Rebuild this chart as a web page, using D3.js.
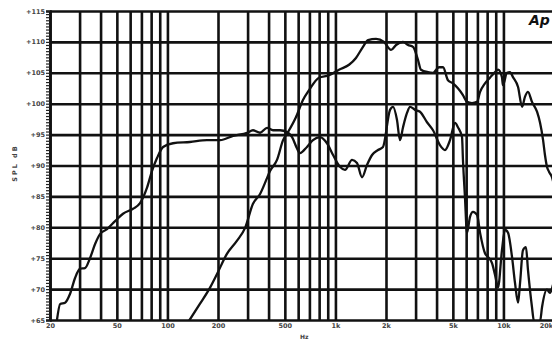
<!DOCTYPE html>
<html>
<head>
<meta charset="utf-8">
<script src="https://cdn.jsdelivr.net/npm/d3@7"></script>
<style>
  body { margin: 0; background: #fff; overflow: hidden; }
  svg { display: block; }
  .axisText { font-family: "DejaVu Sans", sans-serif; fill: #444; }
</style>
</head>
<body>
<div id="chart"></div>
<script>
// Woofer response (Hz / dB SPL)
var freqA = [22, 23, 24.6, 26.3, 28.2, 30.2, 32.3, 34.6, 37.1, 39.7, 43.7, 48.8, 54.4, 62.4, 68.7, 75.6, 80.9, 86.7, 94.2,
  108, 136, 172, 206, 246, 298, 323, 356, 392, 425, 468, 515, 552, 590, 615, 677, 735, 809, 891, 968,
  1064, 1140, 1256, 1344, 1440, 1542, 1652, 1792, 1919, 2113, 2203, 2324, 2423, 2526, 2667, 2780, 2978,
  3187, 3509, 3810, 4189, 4489, 4809, 5152, 5360, 5670, 5743, 5900, 6070, 6325, 6592, 6966, 7262, 7767,
  8092, 8551, 8913, 9290, 9800, 10213, 10650, 11250, 11720, 12220, 12560, 13070, 13620, 14000, 14790,
  15200, 16520, 16980, 18160, 18940, 19720];
var splA = [65, 67.6, 67.8, 69.2, 71.8, 73.3, 73.4, 75.0, 77.3, 78.9, 79.7, 81.0, 82.2, 83.0, 83.9, 86.4, 89.1, 91.2, 93.0,
  93.6, 93.8, 94.1, 94.1, 94.8, 95.3, 95.7, 95.3, 96.1, 95.7, 95.7, 95.4, 94.6, 92.8, 92.0, 93.0, 94.1, 94.6, 93.6, 91.7,
  89.8, 89.3, 90.9, 90.4, 88.1, 90.1, 91.7, 92.5, 93.0, 99.0, 99.5, 97.4, 94.1, 96.2, 98.5, 99.5, 99.0,
  98.7, 97.0, 95.7, 93.3, 92.5, 94.1, 96.9, 96.2, 94.6, 90.9, 85.0, 79.1, 81.7, 82.5, 82.0, 79.1, 75.8,
  75.2, 74.2, 72.3, 70.3, 76.3, 79.6, 79.1, 75.2, 71.0, 67.8, 71.0, 76.3, 76.8, 73.1, 67.1,
  64.8, 64.8, 67.1, 69.9, 69.4, 70.7];

// Horn response (Hz / dB SPL)
var freqB = [134, 156, 179, 197, 226, 259, 290, 323, 356, 392, 408, 449, 488, 522, 582, 641, 697, 798, 916,
  1050, 1205, 1325, 1459, 1563, 1744, 1946, 2143, 2296, 2526, 2704, 2896, 3100, 3230, 3556, 3810, 4134,
  4370, 4676, 5010, 5360, 5743, 6070, 6500, 6966, 7262, 7767, 8318, 8913, 9290, 9800, 9936, 10500,
  10940, 11400, 12220, 12910, 13430, 14000, 14790, 15850, 16520, 17220, 17670, 18160, 18670, 19450, 20280];
var splB = [64.8, 67.6, 70.2, 72.4, 75.7, 77.8, 79.9, 83.8, 85.4, 88.0, 89.1, 90.9, 94.1, 95.4, 97.8, 100.6, 102.2, 104.2, 104.6,
  105.5, 106.3, 107.4, 109.2, 110.3, 110.5, 110.0, 108.7, 109.5, 110.0, 109.5, 109.2, 107.1, 105.5, 105.1, 105.0, 105.9,
  105.9, 103.8, 103.3, 102.5, 101.4, 100.3, 100.1, 100.3, 101.9, 103.3, 104.2, 105.1, 105.5, 104.3, 103.0, 105.0,
  105.1, 104.3, 102.7, 99.5, 101.1, 101.9, 100.3, 98.7, 96.9, 94.1, 91.7, 89.8, 89.0, 88.1, 86.0];

// Axis ticks
var gridFreqs = [20, 30, 40, 50, 60, 70, 80, 90, 100, 200, 300, 400, 500, 600, 700, 800, 900,
  1000, 2000, 3000, 4000, 5000, 6000, 7000, 8000, 9000, 10000, 20000];
var xLabelFreqs = [20, 50, 100, 200, 500, 1000, 2000, 5000, 10000, 20000];
var xTickLabels = ["20", "50", "100", "200", "500", "1k", "2k", "5k", "10k", "20k"];
var yTicks = [65, 70, 75, 80, 85, 90, 95, 100, 105, 110, 115];

var svgWidth = 552;
var svgHeight = 342;
var margin = { top: 11, left: 50 };
var width = 504;
var height = 309;

var svg = d3.select("#chart")
  .append("svg")
  .attr("width", svgWidth)
  .attr("height", svgHeight);

var chartGroup = svg.append("g")
  .attr("transform", `translate(${margin.left}, ${margin.top})`);

var xLogScale = d3.scaleLog().domain([20, 20000]).range([0, width]);
var yLinearScale = d3.scaleLinear().domain([65, 115]).range([height, 0]);

// vertical grid
var vGrid = chartGroup.append("g")
  .attr("transform", `translate(0, ${height})`)
  .call(d3.axisBottom(xLogScale).tickValues(gridFreqs).tickSize(-height).tickFormat(""));
vGrid.select(".domain").remove();
vGrid.selectAll("line").attr("stroke", "#111").attr("stroke-width", 2.6);

// horizontal grid
var hGrid = chartGroup.append("g")
  .call(d3.axisLeft(yLinearScale).tickValues(yTicks).tickSize(-width).tickFormat(""));
hGrid.select(".domain").remove();
hGrid.selectAll("line").attr("stroke", "#111").attr("stroke-width", 2.6);

// minor ticks on the dB axis
var minor = chartGroup.append("g")
  .call(d3.axisLeft(yLinearScale).tickValues(d3.range(65, 115.01, 0.5)).tickSize(4).tickFormat(""));
minor.select(".domain").attr("stroke", "#111").attr("stroke-width", 2.6);
minor.selectAll("line").attr("stroke", "#222").attr("stroke-width", 1.2);

// labels
var yLab = chartGroup.append("g")
  .call(d3.axisLeft(yLinearScale).tickValues(yTicks).tickSize(0).tickPadding(5).tickFormat(d => "+" + d));
yLab.select(".domain").remove();
yLab.selectAll("text").attr("class", "axisText").attr("font-size", 6.5).attr("font-weight", "bold");

var xLab = chartGroup.append("g")
  .attr("transform", `translate(0, ${height})`)
  .call(d3.axisBottom(xLogScale).tickValues(xLabelFreqs).tickSize(0).tickPadding(3)
    .tickFormat((d, i) => xTickLabels[i]));
xLab.select(".domain").remove();
xLab.selectAll("text").attr("class", "axisText").attr("font-size", 6.5).attr("font-weight", "bold");
xLab.selectAll("text").filter(d => d === 20000).attr("dx", -8);

// curves
svg.append("clipPath").attr("id", "plotClip")
  .append("rect").attr("x", 0).attr("y", -2).attr("width", width).attr("height", height + 3);

var line = d3.line()
  .x(d => xLogScale(d[0]))
  .y(d => yLinearScale(d[1]))
  .curve(d3.curveMonotoneX);

var curves = chartGroup.append("g").attr("clip-path", "url(#plotClip)");
[[freqA, splA], [freqB, splB]].forEach(function(s) {
  curves.append("path")
    .datum(d3.zip(s[0], s[1]))
    .attr("d", line)
    .attr("fill", "none")
    .attr("stroke", "#111")
    .attr("stroke-width", 2.3)
    .attr("stroke-linejoin", "round");
});

// axis titles and brand mark
svg.append("text")
  .attr("class", "axisText")
  .attr("x", 300).attr("y", 339)
  .attr("font-size", 6).attr("font-weight", "bold")
  .text("Hz");

svg.append("text")
  .attr("class", "axisText")
  .attr("transform", "translate(17, 163) rotate(-90)")
  .attr("text-anchor", "middle")
  .attr("font-size", 6.5).attr("font-weight", "bold")
  .attr("letter-spacing", 2)
  .text("SPL dB");

svg.append("text")
  .attr("x", 529).attr("y", 25)
  .attr("font-family", "DejaVu Sans, sans-serif")
  .attr("font-size", 14).attr("font-weight", "bold").attr("font-style", "italic")
  .attr("fill", "#111")
  .text("Ap");
</script>
</body>
</html>
